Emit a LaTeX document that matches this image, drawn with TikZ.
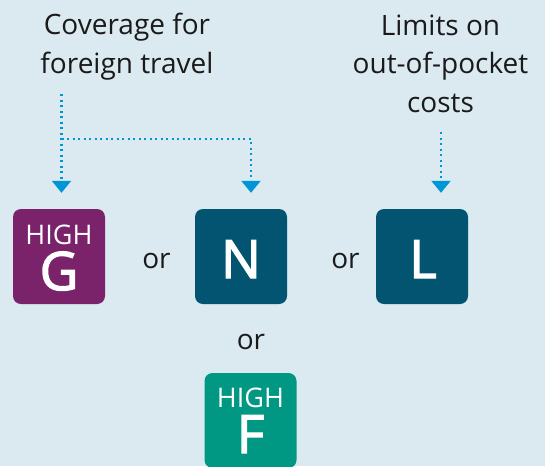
\documentclass[tikz,border=0pt]{standalone}
\usepackage{fontspec}
\setmainfont{Open Sans}
\newfontfamily\letterfont[FakeBold=2.5]{Open Sans}
\usetikzlibrary{arrows.meta}
\definecolor{bg}{RGB}{219,233,241}
\definecolor{plum}{RGB}{122,35,107}
\definecolor{navy}{RGB}{2,84,112}
\definecolor{boxgreen}{RGB}{0,152,131}
\definecolor{arrowblue}{RGB}{0,150,214}
\definecolor{ink}{RGB}{26,26,26}
\begin{document}
\begin{tikzpicture}[x=1pt,y=-1pt,
 box/.style={rectangle, rounded corners=8pt, minimum width=92pt, minimum height=95pt, inner sep=0pt, fill=#1},
 lbl/.style={font=\fontsize{28}{38.5}\selectfont, text=ink, align=center, inner sep=0pt},
 big/.style={font=\fontsize{53}{53}\letterfont, text=white, inner sep=0pt, anchor=base},
 high/.style={font=\fontsize{27}{27}\selectfont, text=white, inner sep=0pt, anchor=base},
 dotline/.style={arrowblue, line width=2.2pt, dash pattern=on 2.2pt off 3.3pt},
 tip/.style={-{Triangle[width=19pt,length=12pt]}}
]
\path[fill=bg] (0,0) rectangle (545,466);
\useasboundingbox (0,0) rectangle (545,466);

\node[lbl, anchor=base] (cov) at (127,73) {Coverage for\\foreign travel};
\node[lbl, anchor=base] (lim) at (440.5,112) {Limits on\\out-of-pocket\\costs};

\node[box=plum] (g) at (59,256.5) {};
\node[high] (gh) at (59,244) {HIGH};
\node[big] (gl) at (59,290) {G};

\node[box=navy] (n) at (241,256.5) {};
\node[big] (nl) at (241,278) {N};

\node[box=navy] (l) at (422,256.5) {};
\node[big] (ll) at (423,278) {L};

\node[box=boxgreen] (f) at (250.5,420.5) {};
\node[high] (fh) at (250.5,407) {HIGH};
\node[big] (fl) at (250.5,453) {F};

\node[lbl, anchor=base] (or1) at (156.5,268) {or};
\node[lbl, anchor=base] (or2) at (345.5,268) {or};
\node[lbl, anchor=base] (or3) at (251,349) {or};

\coordinate (ctop) at (61.5,94);
\coordinate (cjoin) at (61.5,139);
\coordinate (rtop) at (441,132);
\draw[dotline, tip, shorten >=16pt] (ctop) -- (ctop |- g.north);
\draw[dotline, tip, shorten >=16pt] (cjoin) -| ([xshift=10pt]n.north);
\draw[dotline, tip, shorten >=16pt] (rtop) -- (rtop |- l.north);
\end{tikzpicture}
\end{document}
